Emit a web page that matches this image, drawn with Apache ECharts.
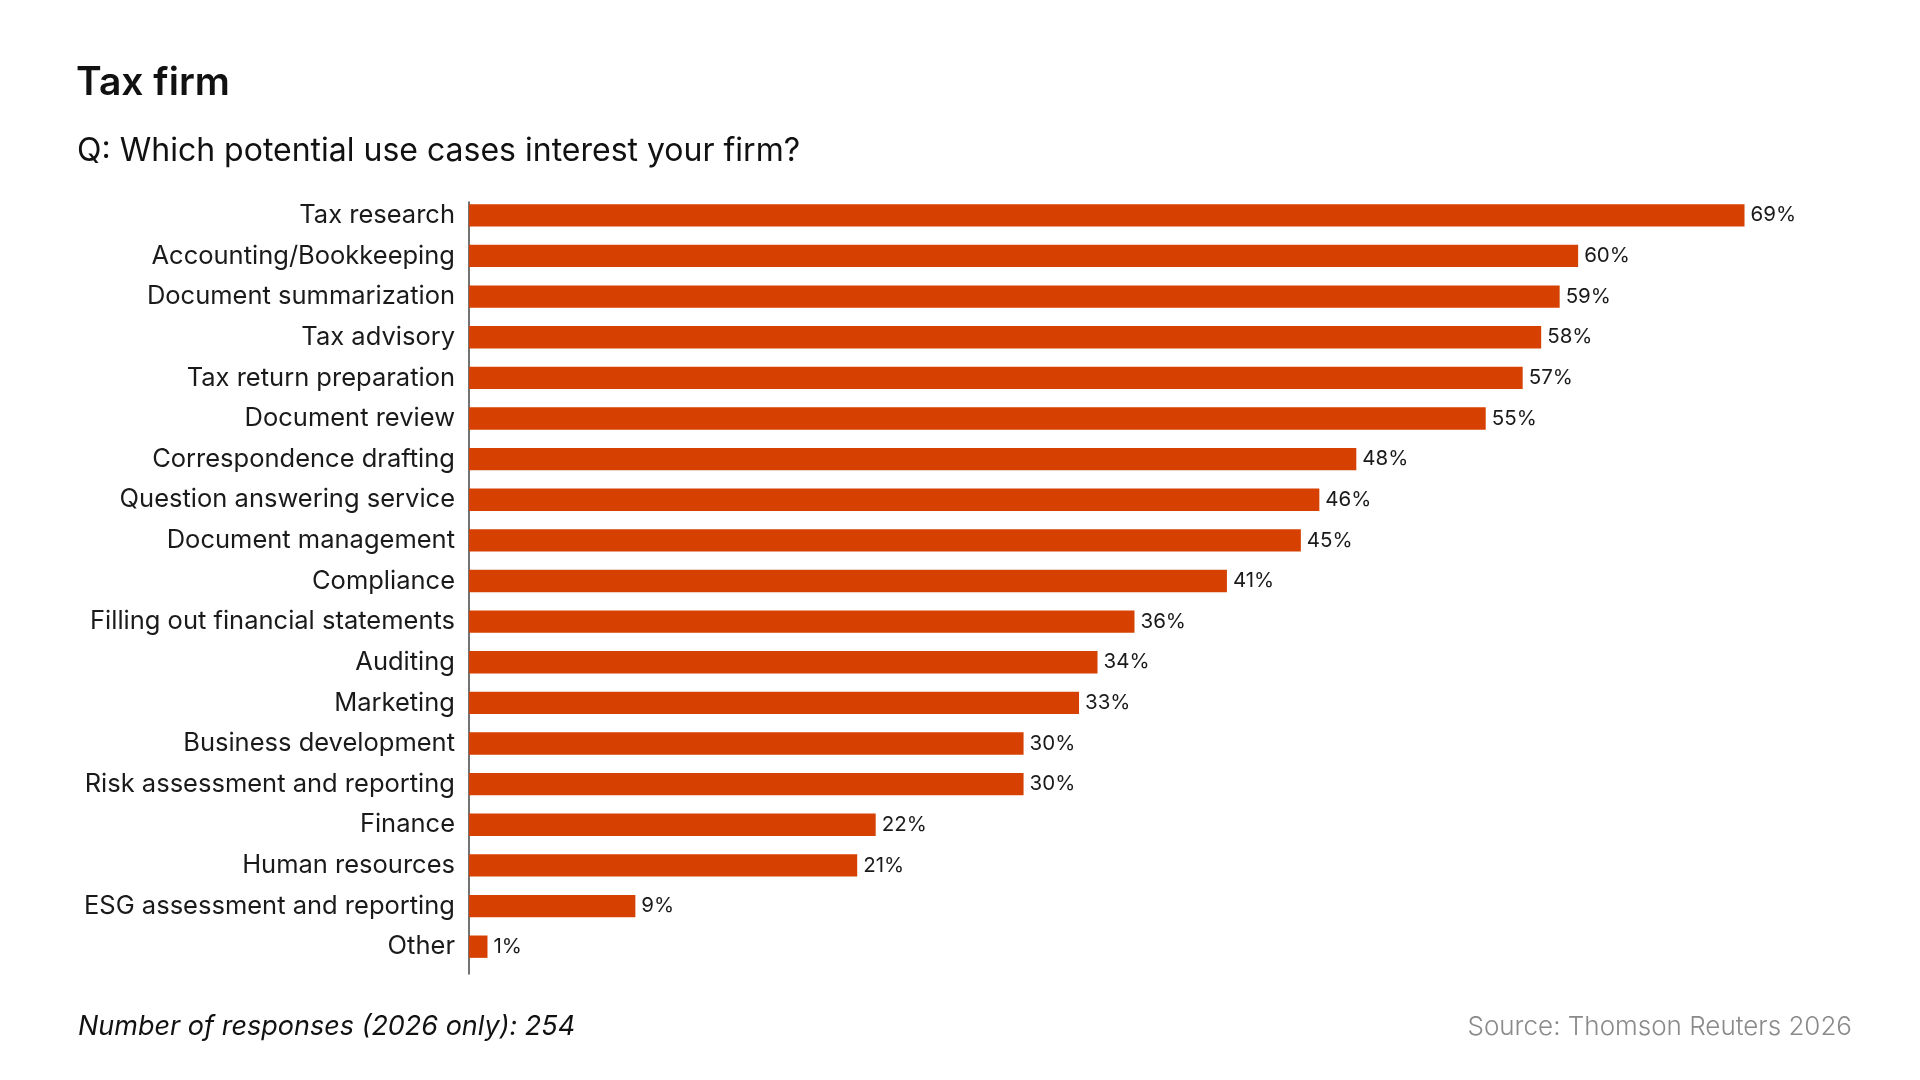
<!DOCTYPE html>
<html><head><meta charset="utf-8">
<script src="https://cdn.jsdelivr.net/npm/echarts@6/dist/echarts.min.js"></script>
<style>html,body{margin:0;padding:0;background:#fff}#c{width:1920px;height:1080px}</style>
</head><body><div id="c"></div>
<script>
const categories = ["Tax research","Accounting/Bookkeeping","Document summarization","Tax advisory","Tax return preparation","Document review","Correspondence drafting","Question answering service","Document management","Compliance","Filling out financial statements","Auditing","Marketing","Business development","Risk assessment and reporting","Finance","Human resources","ESG assessment and reporting","Other"];
const values = [69,60,59,58,57,55,48,46,45,41,36,34,33,30,30,22,21,9,1];
const titleText = "Tax firm";
const subtitleText = "Q: Which potential use cases interest your firm?";
const footnoteText = "Number of responses (2026 only): 254";
const sourceText = "Source: Thomson Reuters 2026";

const FONT = "Inter, 'Noto Sans', sans-serif";
const chart = echarts.init(document.getElementById('c'), null, {renderer:'canvas'});
chart.setOption({
  backgroundColor:'#fff',
  animation:false,
  title:[
    {text:titleText,left:71,top:59,textStyle:{fontFamily:FONT,fontSize:39,fontWeight:600,color:'#111'}},
    {text:subtitleText,left:72,top:130,textStyle:{fontFamily:FONT,fontSize:32,fontWeight:400,color:'#111'}},
    {text:footnoteText,left:73,top:1008,textStyle:{fontFamily:FONT,fontSize:27,fontWeight:400,fontStyle:'italic',color:'#111'}},
    {text:sourceText,right:63,top:1009,textStyle:{fontFamily:FONT,fontSize:26,fontWeight:300,color:'#8a8a8a'}}
  ],
  grid:[
    {left:469,top:195,width:1294,height:772,containLabel:false},
    {left:469,top:202,width:1294,height:772,containLabel:false}
  ],
  xAxis:[
    {gridIndex:0,type:'value',min:0,max:70,show:false},
    {gridIndex:1,type:'value',min:0,max:70,show:false}
  ],
  yAxis:[
    {gridIndex:0,type:'category',data:categories,inverse:true,
     axisLine:{show:false},axisTick:{show:false},
     axisLabel:{margin:14,fontFamily:FONT,fontSize:25.5,color:'#1a1a1a'}},
    {gridIndex:1,type:'category',data:categories,inverse:true,
     axisLine:{show:true,lineStyle:{color:'#444',width:1.5}},axisTick:{show:false},
     axisLabel:{show:false}}
  ],
  series:[{
    type:'bar',xAxisIndex:0,yAxisIndex:0,data:values,
    barCategoryGap:'45%',
    itemStyle:{color:'#D64000'},
    label:{show:true,position:'right',distance:6,formatter:'{c}%',fontFamily:FONT,fontSize:20.5,color:'#1a1a1a'}
  }]
});
</script></body></html>
